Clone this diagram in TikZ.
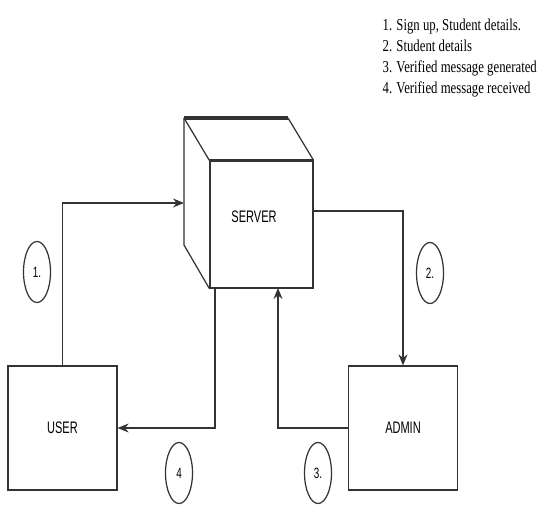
\documentclass[tikz,border=0pt]{standalone}
\usepackage{fontspec}
\setmainfont{Liberation Serif}
\newfontfamily\boxfont{Liberation Sans}[FakeStretch=0.66]
\newfontfamily\keyfont{Liberation Serif}[FakeStretch=0.765]
\usepackage{tikz}
\usetikzlibrary{arrows.meta,positioning,shapes}
\definecolor{ink}{HTML}{333333}

\begin{document}
\begin{tikzpicture}[
  line width=0.7pt,
  box/.style={draw=ink,fill=white,minimum width=2.18cm,minimum height=2.48cm,
              inner sep=0pt,font=\boxfont\fontsize{9.5}{11}\selectfont},
  face/.style={draw=ink,minimum width=2.06cm,minimum height=2.54cm,inner sep=0pt},
  oval/.style={ellipse,draw=ink,minimum width=0.54cm,minimum height=1.22cm,
               inner sep=0pt,font=\boxfont\fontsize{8.5}{9}\selectfont},
  a/.style={-{Stealth[length=2.2mm,width=1.8mm]},draw=ink},
  key/.style={align=left,anchor=north west,inner sep=0pt,
              font=\keyfont\fontsize{9.5}{12}\selectfont}]
\useasboundingbox (0,0) rectangle (10.74,10.10);

% ------------------------------- legend ------------------------------------
\node[key] (legend) at (7.64,9.74)
  {1. Sign up, Student details.\\2. Student details\\
   3. Verified message generated\\4. Verified message received};

% ------------------------------- server cube -------------------------------
\node[face] (server) at (5.23,5.61) {};
\node[font=\boxfont\fontsize{9.5}{11}\selectfont] (srvtxt) at (5.08,5.76) {SERVER};
\coordinate (bkl) at (3.68,7.74);
\coordinate (bkr) at (5.76,7.74);
\coordinate (bkb) at (3.68,5.20);
\draw[ink] (bkl) -- (bkb) -- (server.south west);
\draw[ink] (bkl) -- (server.north west);
\draw[ink] (bkr) -- (server.north east);
\draw[ink,line width=1.8pt] (bkl) -- (bkr);
\draw[ink,line width=1.3pt] (server.north west) -- (server.north east);

% ------------------------------- user / admin ------------------------------
\node[box] (user)  at (1.25,1.54) {USER};
\node[box] (admin) at (8.06,1.54) {ADMIN};

% ------------------------------- flows -------------------------------------
\coordinate (in1)  at (3.68,6.04);
\coordinate (out2) at (6.26,5.88);
\coordinate (in3)  at (5.56,4.34);
\coordinate (out4) at (4.30,4.34);
\draw[a] (user.north) |- (in1);
\draw[a] (out2) -| (admin.north);
\draw[a] (admin.west) -| (in3);
\draw[a] (out4) |- (user.east);

% ------------------------------- step numbers ------------------------------
\node[oval] (s1) at (0.74,4.66) {1.};
\node[oval] (s2) at (8.60,4.64) {2.};
\node[oval] (s3) at (6.36,0.64) {3.};
\node[oval] (s4) at (3.58,0.64) {4};
\end{tikzpicture}
\end{document}
